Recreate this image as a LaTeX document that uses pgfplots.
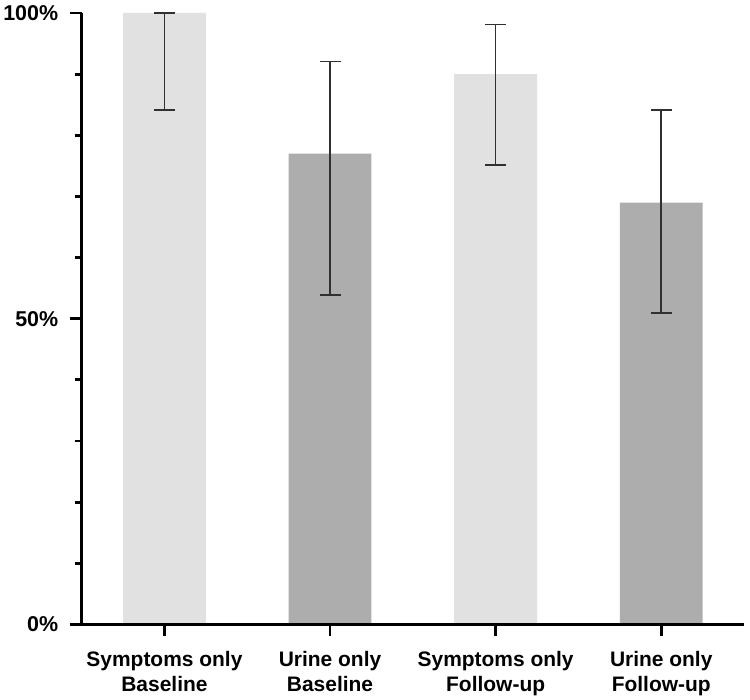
\documentclass[border=0pt]{standalone}
\usepackage{pgfplots}
\pgfplotsset{compat=1.18}
\usepackage{pgfplotstable}
\usepackage{fontspec}
\setmainfont{Liberation Sans}
\definecolor{lightbar}{HTML}{E1E1E1}
\definecolor{darkbar}{HTML}{ADADAD}
\definecolor{errc}{HTML}{303030}
\pgfplotstableread{
x y ep em
0 100 0 15.9
2 90.0 8.1 14.9
}\lighttab
\pgfplotstableread{
x y ep em
1 77.0 15.1 23.1
3 69.0 15.1 18.1
}\darktab
\begin{document}
\begin{tikzpicture}
\begin{axis}[
  scale only axis,
  width=664pt, height=613pt,
  xmin=-0.5, xmax=3.5,
  ymin=0, ymax=100,
  clip=false,
  axis on top=true,
  axis x line*=bottom,
  axis y line*=left,
  axis line style={line width=3.3pt, black},
  every tick/.style={line width=2.8pt, black},
  every minor tick/.style={line width=2.8pt, black},
  tick align=outside,
  major tick length=12pt,
  minor tick length=7pt,
  ytick={0,50,100},
  yticklabels={0\%,50\%,100\%},
  minor ytick={10,20,30,40,60,70,80,90},
  xtick={0,1,2,3},
  xticklabels={Symptoms only\\Baseline, Urine only\\Baseline, Symptoms only\\Follow-up, Urine only\\Follow-up},
  x tick label style={align=center, font=\fontsize{21}{25}\selectfont\bfseries, yshift=-11pt},
  y tick label style={font=\fontsize{21.5}{25}\selectfont\bfseries, xshift=-8pt},
  ybar,
  bar width=0.5,
  error bars/y dir=both,
  error bars/y explicit,
  error bars/error bar style={line width=1.5pt, errc},
  error bars/error mark options={rotate=90, mark size=10.5pt, line width=1.5pt, errc},
]
\addplot[fill=lightbar, draw=none, bar shift=0pt] table[x=x, y=y, y error plus=ep, y error minus=em] {\lighttab};
\addplot[fill=darkbar, draw=none, bar shift=0pt] table[x=x, y=y, y error plus=ep, y error minus=em] {\darktab};
\end{axis}
\path (current axis.south west) ++(-80pt,-75pt) coordinate (bl);
\path (current axis.north east) ++(6pt,13pt) coordinate (tr);
\useasboundingbox (bl) rectangle (tr);
\end{tikzpicture}
\end{document}
